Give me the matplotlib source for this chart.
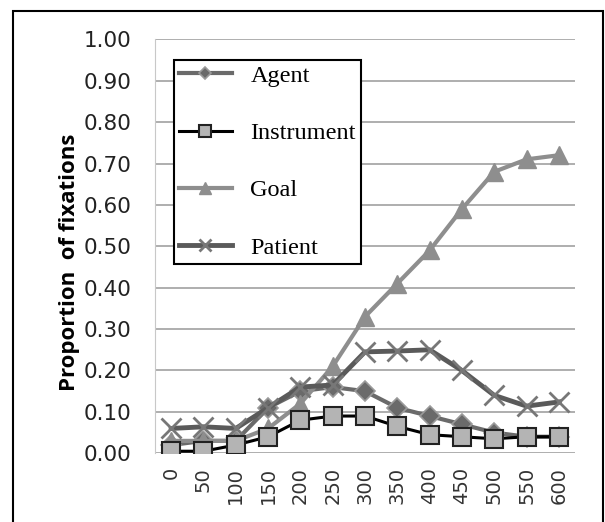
import matplotlib.pyplot as plt
from matplotlib.patches import Rectangle

# Time bins (ms) and fixation proportions per region
times = ["0", "50", "100", "150", "200", "250", "300", "350", "400", "450", "500", "550", "600"]
agent = [0.02, 0.03, 0.03, 0.11, 0.15, 0.16, 0.15, 0.11, 0.09, 0.07, 0.05, 0.04, 0.04]
instrument = [0.005, 0.005, 0.02, 0.04, 0.08, 0.09, 0.09, 0.065, 0.045, 0.04, 0.035, 0.04, 0.04]
goal = [0.03, 0.03, 0.03, 0.06, 0.12, 0.21, 0.33, 0.41, 0.49, 0.59, 0.68, 0.71, 0.72]
patient = [0.06, 0.064, 0.06, 0.11, 0.16, 0.165, 0.245, 0.247, 0.25, 0.20, 0.14, 0.114, 0.124]

fig = plt.figure(figsize=(6.05, 5.22), dpi=100)
ax = fig.add_axes([155 / 605, 1 - 453.3 / 522, 420 / 605, 414 / 522])

x = list(range(len(times)))

ax.plot(x, agent, color="#6a6a6a", lw=3, marker="D", ms=10,
        mfc="#6a6a6a", mec="#9a9a9a", mew=1.2, label="Agent", zorder=3)
ax.plot(x, goal, color="#8e8e8e", lw=3, marker="^", ms=13,
        mfc="#8e8e8e", mec="#8e8e8e", label="Goal", zorder=3)
ax.plot(x, patient, color="#5a5a5a", lw=3.5, marker="x", ms=14,
        mec="#777777", mew=2, label="Patient", zorder=4)
ax.plot(x, instrument, color="black", lw=2.2, marker="s", ms=13,
        mfc="#b4b4b4", mec="#222222", mew=1.5, label="Instrument", zorder=5)

ax.set_xlim(-0.5, len(times) - 0.5)
ax.set_ylim(0, 1.0)
ax.set_yticks([i / 10 for i in range(11)])
ax.set_yticklabels([f"{i / 10:.2f}" for i in range(11)], fontsize=15.5,
                   family="DejaVu Sans", color="#222222")
ax.set_xticks(x)
ax.set_xticklabels(times, rotation=90, fontsize=14, family="DejaVu Sans",
                   color="#333333")
ax.tick_params(length=0)
ax.tick_params(axis="x", pad=10)
ax.tick_params(axis="y", pad=17)

ax.grid(axis="y", color="#a8a8a8", lw=1.3)
ax.set_axisbelow(True)
for s in ["top", "right", "bottom"]:
    ax.spines[s].set_visible(False)
ax.spines["left"].set_color("#c8c8c8")

ax.set_ylabel("Proportion  of fixations", fontsize=16, fontweight="bold",
              family="Open Sans")
ax.yaxis.set_label_coords(-0.178, 0.462)

# legend order as in the original
handles, labels = ax.get_legend_handles_labels()
order = ["Agent", "Instrument", "Goal", "Patient"]
hs = [handles[labels.index(o)] for o in order]
leg = ax.legend(hs, order, loc="upper left", bbox_to_anchor=(0.045, 0.95),
                borderaxespad=0, fancybox=False, framealpha=1,
                edgecolor="black",
                prop={"family": "Liberation Serif", "size": 17.5},
                labelspacing=1.45, handlelength=2.2, handletextpad=0.75,
                borderpad=0.2, markerscale=0.65)
leg.get_frame().set_linewidth(1.5)
for t in leg.get_texts():
    t.set_color("black")

# outer frame
fig.patches.append(Rectangle((12.5 / 605, -0.2), 590 / 605, 1.2 - 11 / 522,
                             transform=fig.transFigure, fill=False,
                             edgecolor="black", lw=1.5))

fig.savefig("out.png", dpi=100)
